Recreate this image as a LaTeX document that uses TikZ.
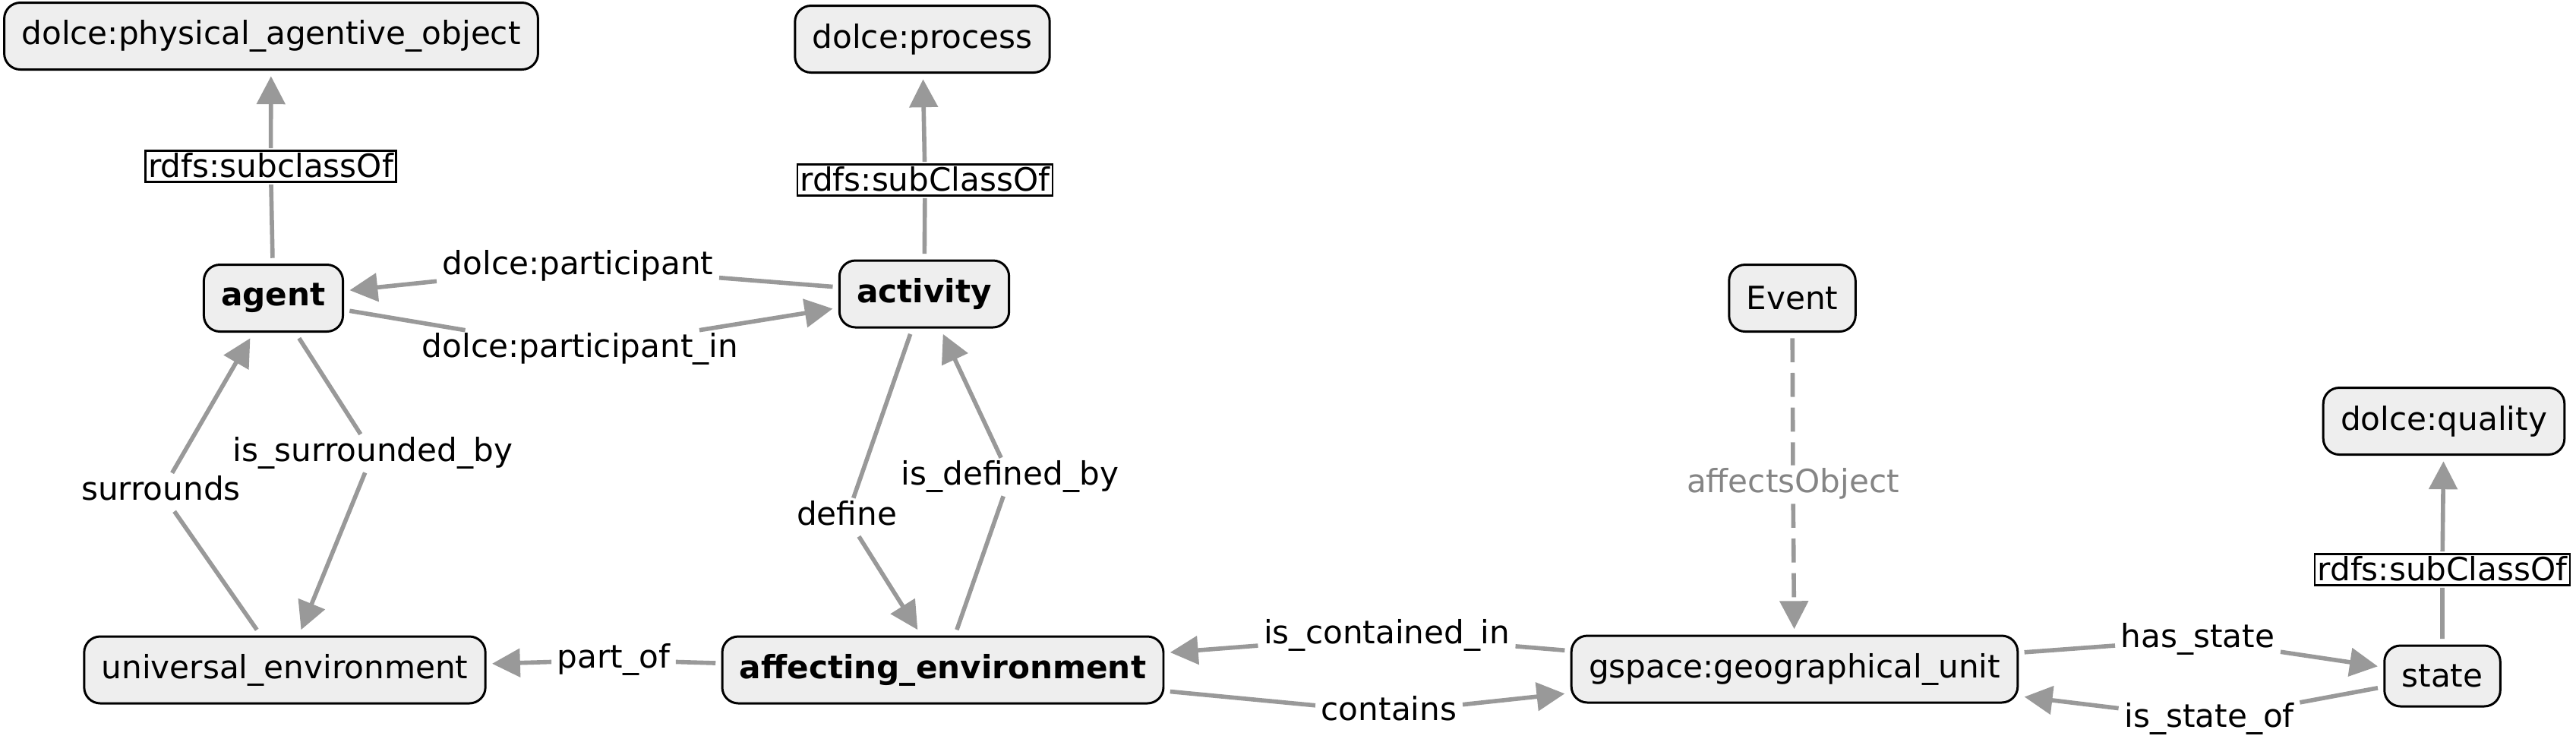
\documentclass[tikz,border=0pt]{standalone}
\usepackage{fontspec}
\setmainfont{DejaVu Sans}
\usetikzlibrary{arrows.meta}
\definecolor{edgegray}{HTML}{999999}
\definecolor{boxgray}{HTML}{EEEEEE}
\definecolor{labelgray}{HTML}{858585}

\begin{document}
\begin{tikzpicture}[y=-1cm,
    every node/.style={font=\fontsize{12}{14}\selectfont},
    cls/.style={draw,fill=boxgray,line width=0.85pt,rounded corners=6pt,minimum height=0.88cm,inner xsep=6.5pt,outer sep=2.5pt},
    boldcls/.style={cls,font=\fontsize{12}{14}\selectfont\bfseries},
    lbl/.style={inner xsep=2pt,inner ysep=1pt,text height=9pt,text depth=3pt},
    subbox/.style={draw,line width=0.8pt,inner xsep=1pt,inner ysep=1pt,text height=9pt,text depth=0.6pt,outer sep=1pt},
    link/.style={edgegray,line width=1.6pt,-{Triangle[length=10.5pt,width=10.5pt]}}]
    \useasboundingbox (0,0) rectangle (33.92,9.72);

    \node[cls] (phys) at (3.57,0.475) {dolce:physical\_agentive\_object};
    \node[cls] (proc) at (12.145,0.515) {dolce:process};
    \node[boldcls] (agent) at (3.60,3.925) {agent};
    \node[boldcls] (activity) at (12.17,3.87) {activity};
    \node[cls] (event) at (23.60,3.925) {Event};
    \node[cls] (quality) at (32.18,5.545) {dolce:quality};
    \node[cls] (univ) at (3.75,8.82) {universal\_environment};
    \node[boldcls] (affenv) at (12.415,8.82) {affecting\_environment};
    \node[cls] (geo) at (23.63,8.81) {gspace:geographical\_unit};
    \node[cls,minimum height=0.8cm] (state) at (32.16,8.90) {state};

    \node[subbox] (subA) at (3.565,2.19) {rdfs:subclassOf};
    \node[subbox] (subP) at (12.18,2.37) {rdfs:subClassOf};
    \node[subbox] (subS) at (32.16,7.50) {rdfs:subClassOf};
    \node[lbl] (lpart) at (7.61,3.51) {dolce:participant};
    \node[lbl] (lpartin) at (7.64,4.60) {dolce:participant\_in};
    \node[lbl] (lsurr) at (2.12,6.48) {surrounds};
    \node[lbl] (lsurrby) at (4.91,5.97) {is\_surrounded\_by};
    \node[lbl] (ldef) at (11.15,6.81) {define};
    \node[lbl] (ldefby) at (13.30,6.28) {is\_defined\_by};
    \node[lbl] (lpartof) at (8.08,8.69) {part\_of};
    \node[lbl] (lcontin) at (18.26,8.37) {is\_contained\_in};
    \node[lbl] (lcont) at (18.29,9.38) {contains};
    \node[lbl] (lhas) at (28.94,8.42) {has\_state};
    \node[lbl] (lstof) at (29.09,9.47) {is\_state\_of};
    \node[lbl,text=labelgray] (laff) at (23.61,6.38) {affectsObject};

    \draw[link] (agent) -- (subA) -- (phys);
    \draw[link] (activity) -- (subP) -- (proc);
    \draw[link] (state) -- (subS) -- (quality);
    \draw[link] (activity) -- (lpart) -- (agent);
    \draw[link] (agent) -- (lpartin) -- (activity);
    \draw[link] (univ) -- (lsurr) -- (agent);
    \draw[link] (agent) -- (lsurrby) -- (univ);
    \draw[link] (activity) -- (ldef) -- (affenv);
    \draw[link] (affenv) -- (ldefby) -- (activity);
    \draw[link] (affenv) -- (lpartof) -- (univ);
    \draw[link] (geo) -- (lcontin) -- (affenv);
    \draw[link] (affenv) -- (lcont) -- (geo);
    \draw[link,dash pattern=on 9pt off 4pt] (event) -- (laff) -- (geo);
    \draw[link] (geo) -- (lhas) -- (state);
    \draw[link] (state) -- (lstof) -- (geo);
\end{tikzpicture}
\end{document}
